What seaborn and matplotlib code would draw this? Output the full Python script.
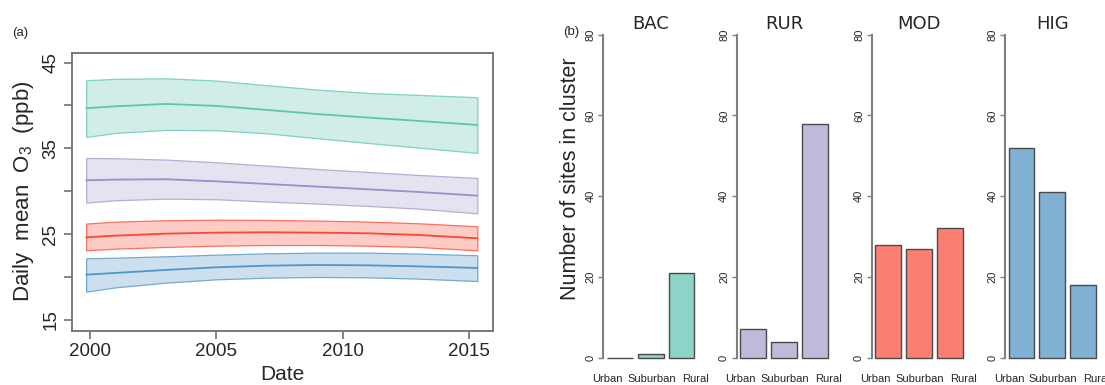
import colorsys
import numpy as np
import pandas as pd
import matplotlib
matplotlib.use("Agg")
import matplotlib.pyplot as plt
import matplotlib.colors as mcolors
from matplotlib.ticker import FixedLocator
import seaborn as sns

# ---- smoothed daily mean ozone trends per cluster (ppb) ----
years = [1999.85, 2001, 2003, 2005, 2007, 2009, 2011, 2013, 2015.33]

bac_mid = [39.68, 39.90, 40.18, 39.95, 39.48, 39.00, 38.59, 38.20, 37.73]
bac_hi = [42.94, 43.10, 43.17, 42.90, 42.36, 41.85, 41.46, 41.23, 40.96]
bac_lo = [36.33, 36.80, 37.15, 37.11, 36.76, 36.18, 35.63, 35.09, 34.47]

rur_mid = [31.28, 31.36, 31.40, 31.16, 30.85, 30.54, 30.23, 29.92, 29.49]
rur_hi = [33.88, 33.85, 33.69, 33.38, 32.99, 32.60, 32.25, 31.90, 31.55]
rur_lo = [28.68, 28.95, 29.14, 29.07, 28.80, 28.56, 28.29, 27.98, 27.43]

mod_mid = [24.63, 24.83, 25.06, 25.18, 25.22, 25.18, 25.10, 24.91, 24.52]
mod_hi = [26.23, 26.46, 26.62, 26.69, 26.66, 26.58, 26.46, 26.27, 25.92]
mod_lo = [23.12, 23.31, 23.51, 23.66, 23.74, 23.74, 23.66, 23.51, 23.12]

hig_mid = [20.28, 20.48, 20.83, 21.14, 21.33, 21.41, 21.37, 21.25, 21.06]
hig_hi = [22.19, 22.26, 22.42, 22.61, 22.77, 22.85, 22.85, 22.73, 22.54]
hig_lo = [18.30, 18.80, 19.35, 19.74, 19.93, 20.01, 19.97, 19.82, 19.54]

# ---- number of sites by site type in each cluster ----
clusters = ["BAC", "RUR", "MOD", "HIG"]
site_types = ["Urban", "Suburban", "Rural"]
bac_counts = [0, 1, 21]
rur_counts = [7, 4, 58]
mod_counts = [28, 27, 32]
hig_counts = [52, 41, 18]

x_ticks = [2000, 2005, 2010, 2015]
y_ticks = [15, 20, 25, 30, 35, 40, 45]
y_ticklabels = ["15", "", "25", "", "35", "", "45"]
count_ticks = [0, 20, 40, 60, 80]

colors = {"BAC": "#8DD3C7", "RUR": "#BEBADA", "MOD": "#FB8072", "HIG": "#80B1D3"}

sns.set_style("white")
plt.rcParams["font.family"] = ["Liberation Sans", "DejaVu Sans"]
plt.rcParams["mathtext.fontset"] = "custom"
plt.rcParams["mathtext.rm"] = "Liberation Sans"
plt.rcParams["mathtext.it"] = "Liberation Sans:italic"

W, H = 1105, 385
fig = plt.figure(figsize=(W / 100, H / 100), dpi=100)


def box(left, top, right, bottom):
    return [left / W, 1 - bottom / H, (right - left) / W, (bottom - top) / H]


def deepen(c, dl=0.12):
    h, l, s = colorsys.rgb_to_hls(*mcolors.to_rgb(c))
    return colorsys.hls_to_rgb(h, max(l - dl, 0), min(s * 1.05, 1))


# ---------------- panel (a): trend bands ----------------
ax = fig.add_axes(box(72, 52.7, 493, 330.7))
trend = pd.DataFrame({
    "year": years * 4,
    "mid": bac_mid + rur_mid + mod_mid + hig_mid,
    "lo": bac_lo + rur_lo + mod_lo + hig_lo,
    "hi": bac_hi + rur_hi + mod_hi + hig_hi,
    "cluster": sum([[c] * len(years) for c in clusters], []),
})

for name in clusters:
    sub = trend[trend["cluster"] == name]
    base = mcolors.to_rgb(colors[name])
    ax.fill_between(sub["year"], sub["lo"], sub["hi"],
                    facecolor=(*base, 0.4), edgecolor=deepen(colors[name], 0.03),
                    linewidth=0.9, zorder=2)
    sns.lineplot(data=sub, x="year", y="mid", color=deepen(colors[name]),
                 linewidth=1.3, ax=ax, zorder=3)

ax.set_xlim(1999.29, 2015.95)
ax.set_ylim(13.75, 46.15)
ax.xaxis.set_major_locator(FixedLocator(x_ticks))
ax.set_xticklabels([str(t) for t in x_ticks])
ax.yaxis.set_major_locator(FixedLocator(y_ticks))
ax.set_yticklabels(y_ticklabels)
for s in ax.spines.values():
    s.set_color("#707070")
    s.set_linewidth(1.3)
ax.tick_params(axis="both", which="major", direction="out", length=6, width=1.2,
               color="#707070", labelsize=13.5, pad=3, bottom=True, left=True)
for lab in ax.get_yticklabels():
    lab.set_rotation(90)
    lab.set_va("center")
ax.set_xlabel("Date", fontsize=15)
ax.xaxis.set_label_coords(0.5, (330.7 - 375) / 278.0)
ax.xaxis.label.set_va("center")
ax.set_ylabel("Daily  mean  O$_3$  (ppb)", fontsize=16)
ax.yaxis.set_label_coords((23.7 - 72) / 421, (330.7 - 191.5) / 278.0)
ax.yaxis.label.set_va("center")
fig.text(20.5 / W, 1 - 33 / H, "(a)", fontsize=9.5, ha="center", va="center")

# ---------------- panel (b): site counts ----------------
lefts = [603.3, 736.7, 871.7, 1005]
counts = [bac_counts, rur_counts, mod_counts, hig_counts]
label_pos = [-0.4, 1.03, 2.44]  # category names spread to fit under the bars
for i, (name, left, vals) in enumerate(zip(clusters, lefts, counts)):
    bx = fig.add_axes(box(left, 21.8, left + 94.7, 370.6))
    df = pd.DataFrame({"type": site_types, "n": vals})
    sns.barplot(data=df, x="type", y="n", color=colors[name], saturation=1,
                width=1 / 1.2, edgecolor="#4a4a4a", linewidth=1.0, ax=bx)
    bx.set_xlim(-0.53, 2.53)
    bx.set_ylim(-3.2, 83.2)
    for side in ["top", "right", "bottom"]:
        bx.spines[side].set_visible(False)
    bx.spines["left"].set_bounds(0, 80)
    bx.spines["left"].set_color("#808080")
    bx.spines["left"].set_linewidth(1.5)
    bx.yaxis.set_major_locator(FixedLocator(count_ticks))
    bx.set_yticklabels([str(t) for t in count_ticks])
    bx.tick_params(axis="y", direction="out", length=3.5, width=1.0,
                   color="#808080", labelsize=8, pad=2, left=True)
    for lab in bx.get_yticklabels():
        lab.set_rotation(90)
        lab.set_va("center")
    bx.xaxis.set_major_locator(FixedLocator(label_pos))
    bx.set_xticklabels(site_types)
    bx.tick_params(axis="x", length=0, labelsize=8, pad=2.5)
    bx.set_xlabel("")
    bx.set_ylabel("")
    bx.set_title(name, fontsize=13, family="DejaVu Sans", pad=-5)
    if i == 0:
        bx.set_ylabel("Number of sites in cluster", fontsize=15.5)
        bx.yaxis.set_label_coords((571 - 603.3) / 94.7, (370.6 - 178.5) / 348.8)
        bx.yaxis.label.set_va("center")

fig.text(571 / W, 1 - 32.5 / H, "(b)", fontsize=9.5, ha="center", va="center")

fig.savefig("out.png", dpi=100)
